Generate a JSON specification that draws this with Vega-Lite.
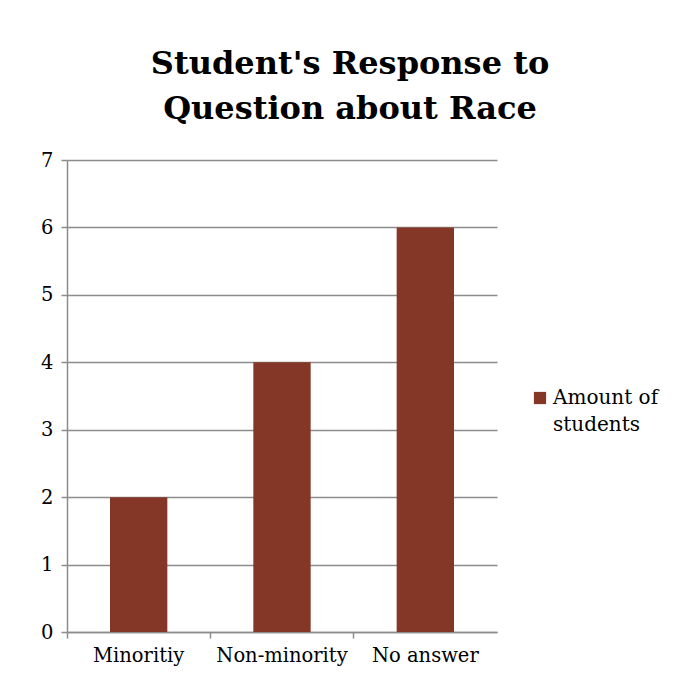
{
  "$schema": "https://vega.github.io/schema/vega-lite/v6.json",
  "autosize": "none",
  "width": 430,
  "height": 472,
  "padding": {"left": 67, "top": 160, "right": 178, "bottom": 64},
  "background": "white",
  "title": {
    "text": ["Student's Response to", "Question about Race"],
    "font": "DejaVu Serif",
    "fontSize": 32,
    "fontWeight": "bold",
    "color": "black",
    "anchor": "middle",
    "frame": "group",
    "dx": 68,
    "lineHeight": 45,
    "offset": 24
  },
  "data": {
    "values": [
      {"category": "Minoritiy", "value": 2, "series": "Amount of students"},
      {"category": "Non-minority", "value": 4, "series": "Amount of students"},
      {"category": "No answer", "value": 6, "series": "Amount of students"}
    ]
  },
  "mark": {"type": "bar", "width": {"band": 0.4}},
  "encoding": {
    "x": {
      "field": "category",
      "type": "nominal",
      "sort": null,
      "title": null,
      "scale": {"paddingInner": 0, "paddingOuter": 0},
      "axis": {
        "labelAngle": 0,
        "bandPosition": 0,
        "labelFont": "DejaVu Serif",
        "labelFontSize": 19.5,
        "labelColor": "black",
        "labelPadding": 8,
        "domainColor": "#8c8c8c",
        "domainWidth": 1.5,
        "tickColor": "#8c8c8c",
        "tickWidth": 1.5,
        "tickSize": 6,
        "grid": false
      }
    },
    "y": {
      "field": "value",
      "type": "quantitative",
      "title": null,
      "scale": {"domain": [0, 7], "nice": false},
      "axis": {
        "values": [0, 1, 2, 3, 4, 5, 6, 7],
        "labelFont": "DejaVu Serif",
        "labelFontSize": 19.5,
        "labelColor": "black",
        "labelPadding": 8,
        "domainColor": "#8c8c8c",
        "domainWidth": 1.5,
        "tickColor": "#8c8c8c",
        "tickWidth": 1.5,
        "tickSize": 6,
        "grid": true,
        "gridColor": "#8c8c8c",
        "gridWidth": 1.5
      }
    },
    "color": {
      "field": "series",
      "type": "nominal",
      "scale": {"range": ["#843726"]},
      "legend": {
        "title": null,
        "orient": "none",
        "legendX": 463,
        "legendY": 228,
        "symbolType": "square",
        "symbolSize": 150,
        "symbolStrokeWidth": 0,
        "labelFont": "DejaVu Serif",
        "labelFontSize": 20,
        "labelColor": "black",
        "labelExpr": "['Amount of', 'students']",
        "labelBaseline": "top",
        "labelOffset": 3,
        "labelLimit": 200,
        "encode": {"labels": {"update": {"dy": {"value": -10}, "lineHeight": {"value": 27}}}}
      }
    }
  },
  "config": {"view": {"stroke": null}}
}
